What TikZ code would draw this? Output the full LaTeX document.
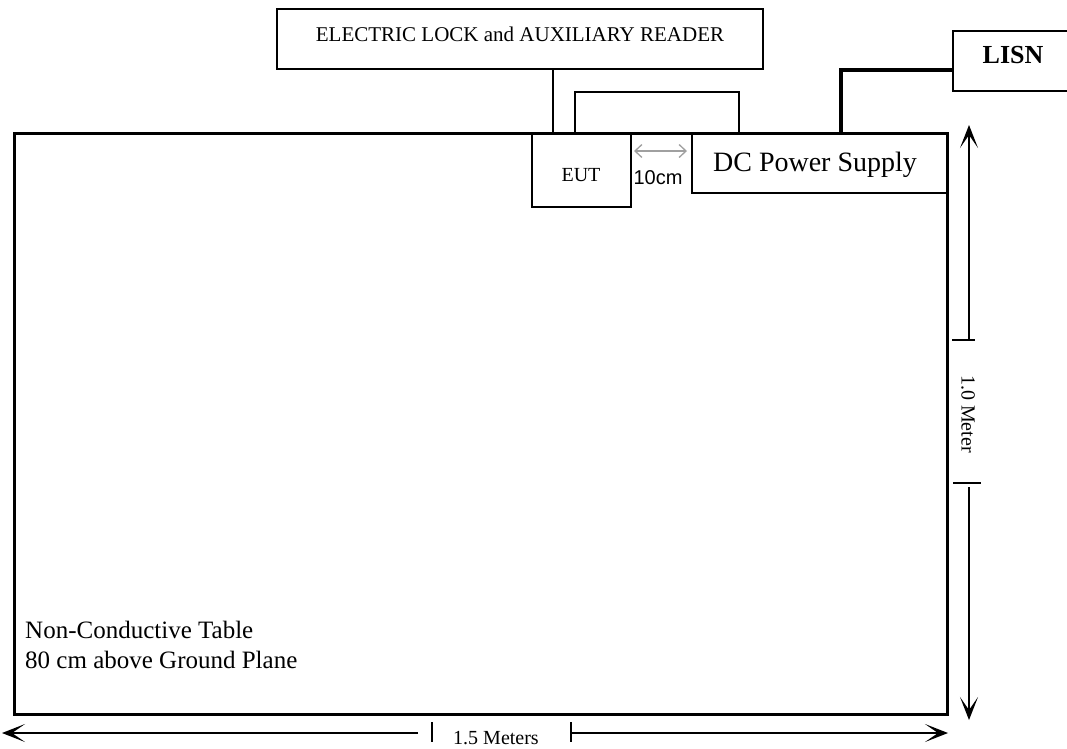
\documentclass[tikz,border=0pt]{standalone}
\usepackage{fontspec}
\setmainfont{Liberation Serif}
\setsansfont{Liberation Sans}
\usetikzlibrary{arrows.meta,calc}
\tikzset{
  box/.style={draw,line width=1.4pt,inner sep=0pt,outer sep=0pt},
  wire/.style={line width=1.4pt},
  thickwire/.style={line width=4pt},
  dimline/.style={line width=1.6pt},
  bigtip/.style={-{Stealth[length=23pt,width=18pt,inset=13pt]}},
  graytip/.style={{Straight Barb[length=7pt,width=13pt,line width=1.3pt]}-{Straight Barb[length=7pt,width=13pt,line width=1.3pt]},line width=1.3pt,draw={rgb,255:red,160;green,160;blue,160}},
  fs/.style={font=\fontsize{#1}{#1}\selectfont}
}
\begin{document}
\begin{tikzpicture}[x=1pt,y=-1pt]
\useasboundingbox (0,0) rectangle (1067,748);
% table
\node[draw,line width=3pt,inner sep=0pt,outer sep=0pt,minimum width=933pt,minimum height=581pt] (table) at (480.5,423.5) {};
% boxes
\node[box,minimum width=486pt,minimum height=60pt] (elec) at (520,39) {};
\node[fs=21] (electext) at (520,34) {ELECTRIC LOCK and AUXILIARY READER};
\node[box,minimum width=99pt,minimum height=74pt] (eut) at (581.5,170) {};
\node[fs=20] (euttext) at (581,175) {EUT};
\node[box,minimum width=255pt,minimum height=60pt] (dc) at (819.5,163) {};
\node[fs=28] (dctext) at (815,165) {DC Power Supply};
\node[box,minimum width=130pt,minimum height=60pt] (lisn) at (1018,61) {};
\node[fs=26] (lisntext) at (1013,55) {\textbf{LISN}};
% wires
\draw[wire] ([xshift=21pt]eut.north west) -- ([xshift=21pt]eut.north west |- elec.south);
\draw[wire] ([xshift=43pt]eut.north west) -- ++(0,-41) -| ([xshift=47pt]dc.north west);
\draw[thickwire] ([xshift=149pt]dc.north west) |- ([yshift=-9pt]lisn.west);
% 10 cm
\draw[graytip] ([shift={(3pt,19pt)}]eut.east) -- ([shift={(-5pt,12pt)}]dc.west);
\node[font=\sffamily\fontsize{20}{20}\selectfont] (tencm) at (658,178) {10cm};
% vertical dimension
\coordinate (vtop) at (969,125);
\coordinate (vt1) at (969,340);
\coordinate (vt2) at (969,483);
\coordinate (vbot) at (969,720);
\draw[dimline,bigtip] (vt1) -- (vtop);
\draw[dimline] ([xshift=-17pt]vt1) -- ([xshift=6pt]vt1);
\draw[dimline] ([xshift=-16pt]vt2) -- ([xshift=12pt]vt2);
\draw[dimline,bigtip] ([yshift=-4pt]vt2) -- (vbot);
\node[fs=20,rotate=-90] (vlabel) at (968,414) {1.0 Meter};
% horizontal dimension
\coordinate (hleft) at (2,733);
\coordinate (ht1) at (432,733);
\coordinate (ht2) at (571,733);
\coordinate (hright) at (948,733);
\draw[dimline,bigtip] ([xshift=-14pt]ht1) -- (hleft);
\draw[dimline] ([yshift=11pt]ht1) -- ([yshift=-9pt]ht1);
\draw[dimline] ([yshift=11pt]ht2) -- ([yshift=-9pt]ht2);
\draw[dimline,bigtip] (ht2) -- (hright);
\node[fs=20,anchor=base,inner sep=0pt] (hlabel) at (496,744) {1.5 Meters};
% table caption
\node[fs=25,anchor=base west,inner sep=0pt] (caption1) at (25,638) {Non-Conductive Table};
\node[fs=25,anchor=base west,inner sep=0pt] (caption2) at (25,668) {80 cm above Ground Plane};
\end{tikzpicture}
\end{document}
